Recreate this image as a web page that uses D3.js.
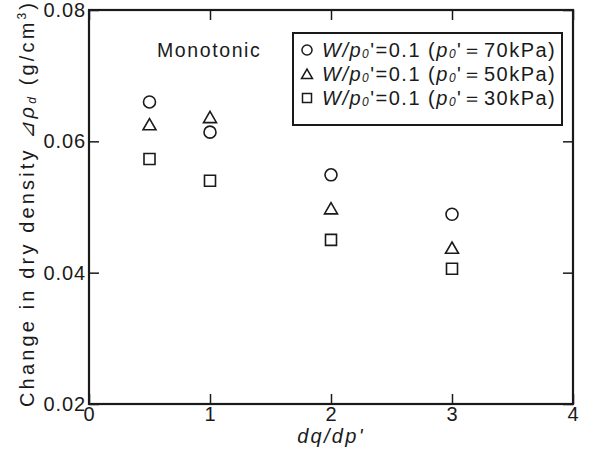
<!DOCTYPE html>
<html>
<head>
<meta charset="utf-8">
<script src="https://cdn.jsdelivr.net/npm/d3@7"></script>
<style>
  body { margin: 0; background: #fff; }
  svg { display: block; }
  text { font-family: "Liberation Sans", Arial, Helvetica, sans-serif; fill: #1a1a1a; }
</style>
</head>
<body>
<svg width="590" height="452"></svg>
<script>
// dq/dp' values where tests were run
const ratios = [0.5, 1, 2, 3];
// change in dry density, one array per confining pressure
const dens70 = [0.0660, 0.0614, 0.0549, 0.0489];
const dens50 = [0.0626, 0.0637, 0.0498, 0.0438];
const dens30 = [0.0573, 0.0540, 0.0450, 0.0406];
const pressures = ["70", "50", "30"];
const xTicks = [0, 1, 2, 3, 4];
const yTicks = [0.02, 0.04, 0.06, 0.08];

const ink = "#1a1a1a";
let svg = d3.select("svg"),
  margin = { top: 10, right: 17, bottom: 48, left: 89 },
  width = 590 - margin.left - margin.right,
  height = 452 - margin.top - margin.bottom;

let g = svg.append("g").attr("transform", "translate(" + margin.left + "," + margin.top + ")");

let x = d3.scaleLinear().domain([0, 4]).range([0, width]);
let y = d3.scaleLinear().domain([0.02, 0.08]).range([height, 0]);

let series = [
  { values: dens70, shape: d3.symbolCircle, size: 113, lsize: 80, dy: 0 },
  { values: dens50, shape: d3.symbolTriangle, size: 73, lsize: 52, dy: 1.8 },
  { values: dens30, shape: d3.symbolSquare, size: 121, lsize: 81, dy: 0 },
];

// axes (ticks pointing inward on all four sides)
function styleAxis(sel) {
  sel.select(".domain").remove();
  sel.selectAll("line").attr("stroke", ink).attr("stroke-width", 1.5);
  sel.selectAll("text")
    .style("font-size", "20px")
    .style("letter-spacing", "0.9px")
    .attr("fill", ink);
}

g.append("g")
  .attr("transform", "translate(0," + height + ")")
  .call(d3.axisBottom(x).tickValues(xTicks).tickFormat(d3.format("d")).tickSizeInner(-10).tickSizeOuter(0).tickPadding(3))
  .call(styleAxis);

g.append("g")
  .call(d3.axisLeft(y).tickValues(yTicks).tickFormat(d3.format(".2f")).tickSizeInner(-10).tickSizeOuter(0).tickPadding(3))
  .call(styleAxis);

g.append("g")
  .call(d3.axisTop(x).tickValues(xTicks).tickFormat("").tickSizeInner(-10).tickSizeOuter(0))
  .call(styleAxis);

g.append("g")
  .attr("transform", "translate(" + width + ",0)")
  .call(d3.axisRight(y).tickValues(yTicks).tickFormat("").tickSizeInner(-10).tickSizeOuter(0))
  .call(styleAxis);

g.append("rect")
  .attr("width", width)
  .attr("height", height)
  .attr("fill", "none")
  .attr("stroke", ink)
  .attr("stroke-width", 2.2);

// data markers
series.forEach(function (s) {
  g.selectAll(null)
    .data(s.values)
    .enter()
    .append("path")
    .attr("d", d3.symbol().type(s.shape).size(s.size))
    .attr("transform", function (d, i) {
      return "translate(" + x(ratios[i]) + "," + (y(d) + s.dy) + ")";
    })
    .attr("fill", "none")
    .attr("stroke", ink)
    .attr("stroke-width", 1.6);
});

// annotation
g.append("text")
  .attr("x", 157 - margin.left)
  .attr("y", 57 - margin.top)
  .style("font-size", "19.5px")
  .style("letter-spacing", "1.6px")
  .text("Monotonic");

// legend
let legend = g.append("g").attr("transform", "translate(" + (293 - margin.left) + "," + (33 - margin.top) + ")");
legend.append("rect")
  .attr("width", 269)
  .attr("height", 92)
  .attr("fill", "#fff")
  .attr("stroke", ink)
  .attr("stroke-width", 2);

series.forEach(function (s, i) {
  let rowY = 17 + i * 24;
  legend.append("path")
    .attr("d", d3.symbol().type(s.shape).size(s.lsize))
    .attr("transform", "translate(14," + (rowY + s.dy * 0.8) + ")")
    .attr("fill", "none")
    .attr("stroke", ink)
    .attr("stroke-width", 1.5);

  let t = legend.append("text")
    .attr("x", 29)
    .attr("y", rowY + 7)
    .style("font-size", "20px")
    .style("letter-spacing", "1.5px");
  t.append("tspan").style("font-style", "italic").text("W/p");
  t.append("tspan").style("font-style", "italic").style("font-size", "12px").attr("dy", 1).text("0");
  t.append("tspan").attr("dy", -1).text("'=0.1 (");
  t.append("tspan").style("font-style", "italic").text("p");
  t.append("tspan").style("font-style", "italic").style("font-size", "12px").attr("dy", 1).text("0");
  t.append("tspan").attr("dy", -1).text("'\uFF1D" + pressures[i] + "kPa)");
});

// axis titles
svg.append("text")
  .attr("x", margin.left + width / 2)
  .attr("y", 443)
  .attr("text-anchor", "middle")
  .style("font-size", "20px")
  .style("font-style", "italic")
  .style("letter-spacing", "2.3px")
  .text("dq/dp'");

let yt = svg.append("text")
  .attr("transform", "translate(34," + (margin.top + height / 2 - 2) + ") rotate(-90)")
  .attr("text-anchor", "middle")
  .attr("textLength", 404)
  .attr("lengthAdjust", "spacing")
  .style("font-size", "20px");
yt.append("tspan").text("Change in dry density ");
yt.append("tspan").style("font-style", "italic").text("\u22BF\u03C1");
yt.append("tspan").style("font-style", "italic").style("font-size", "12px").attr("dy", 2).text("d");
yt.append("tspan").attr("dy", -2).text(" (g/cm");
yt.append("tspan").style("font-size", "12px").attr("dy", -8).text("3");
yt.append("tspan").attr("dy", 8).text(")");
</script>
</body>
</html>
